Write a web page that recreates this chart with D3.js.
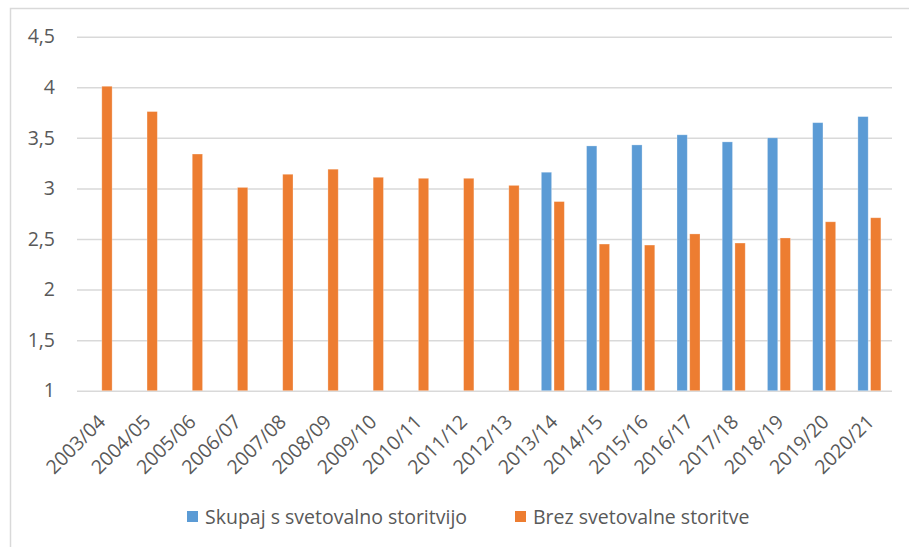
<!DOCTYPE html>
<html>
<head>
<meta charset="utf-8">
<script src="https://cdn.jsdelivr.net/npm/d3@7"></script>
<style>
  html, body { margin: 0; padding: 0; background: #fff; }
  svg { display: block; font-family: "Open Sans", sans-serif; }
</style>
</head>
<body>
<svg id="chart" width="909" height="547"></svg>
<script>
const categories = ["2003/04","2004/05","2005/06","2006/07","2007/08","2008/09","2009/10","2010/11","2011/12","2012/13","2013/14","2014/15","2015/16","2016/17","2017/18","2018/19","2019/20","2020/21"];
const seriesNames = ["Skupaj s svetovalno storitvijo", "Brez svetovalne storitve"];
const seriesColors = ["#5B9BD5", "#ED7D31"];
const withAdvice = [null,null,null,null,null,null,null,null,null,null,3.16,3.42,3.43,3.53,3.46,3.50,3.65,3.71];
const withoutAdvice = [4.01,3.76,3.34,3.01,3.14,3.19,3.11,3.10,3.10,3.03,2.87,2.45,2.44,2.55,2.46,2.51,2.67,2.71];
const yTicks = [1, 1.5, 2, 2.5, 3, 3.5, 4, 4.5];

const svg = d3.select("#chart");
const textColor = "#595959";
const gridColor = "#d9d9d9";
const fontSize = 19.5;

// frame
svg.append("path")
  .attr("d", "M10.5,547 L10.5,8.5 L909,8.5")
  .attr("fill", "none").attr("stroke", gridColor).attr("stroke-width", 1.5);

const x0 = d3.scaleBand().domain(categories).range([78, 892]);
const x1 = d3.scaleBand().domain([0, 1]).range([0, x0.bandwidth()]).paddingInner(0.19).paddingOuter(0.874);
const y = d3.scaleLinear().domain([1, 4.5]).range([390.7, 36.7]);

// gridlines + y labels
const yAxis = d3.axisLeft(y).tickValues(yTicks).tickSize(-(892 - 77)).tickPadding(22)
  .tickFormat(d => d3.format(".1~f")(d).replace(".", ","));
const gy = svg.append("g").attr("transform", "translate(77,0)").call(yAxis);
gy.select(".domain").remove();
gy.selectAll(".tick line").attr("stroke", gridColor).attr("stroke-width", 1.5);
gy.selectAll(".tick text").attr("fill", textColor).style("font-size", fontSize + "px")
  .style("font-family", "'Open Sans', sans-serif");

// bars
const seriesData = [withAdvice, withoutAdvice];
seriesData.forEach((vals, si) => {
  svg.append("g").selectAll("rect")
    .data(categories.map((c, i) => ({c, v: vals[i]})).filter(d => d.v != null))
    .join("rect")
    .attr("x", d => x0(d.c) + x1(si))
    .attr("width", x1.bandwidth())
    .attr("y", d => y(d.v))
    .attr("height", d => y(1) - y(d.v))
    .attr("fill", seriesColors[si])
    .attr("stroke", "#fff").attr("stroke-opacity", 0.35).attr("stroke-width", 0.8);
});

// x labels
const xAxis = d3.axisBottom(x0).tickSize(0).tickPadding(0);
const gx = svg.append("g").attr("transform", "translate(0,391)").call(xAxis);
gx.select(".domain").remove();
gx.selectAll(".tick text")
  .attr("fill", textColor)
  .style("font-size", fontSize + "px")
  .style("font-family", "'Open Sans', sans-serif")
  .attr("text-anchor", "end")
  .attr("dy", null)
  .attr("y", 0)
  .attr("transform", "translate(6,32) rotate(-45)");

// legend
const legendItems = [
  {name: seriesNames[0], color: seriesColors[0], x: 187},
  {name: seriesNames[1], color: seriesColors[1], x: 515}
];
const lg = svg.append("g");
legendItems.forEach(it => {
  lg.append("rect").attr("x", it.x).attr("y", 511).attr("width", 11).attr("height", 11).attr("fill", it.color);
  lg.append("text").attr("x", it.x + 18).attr("y", 524)
    .attr("fill", textColor).style("font-size", fontSize + "px").text(it.name);
});
</script>
</body>
</html>
